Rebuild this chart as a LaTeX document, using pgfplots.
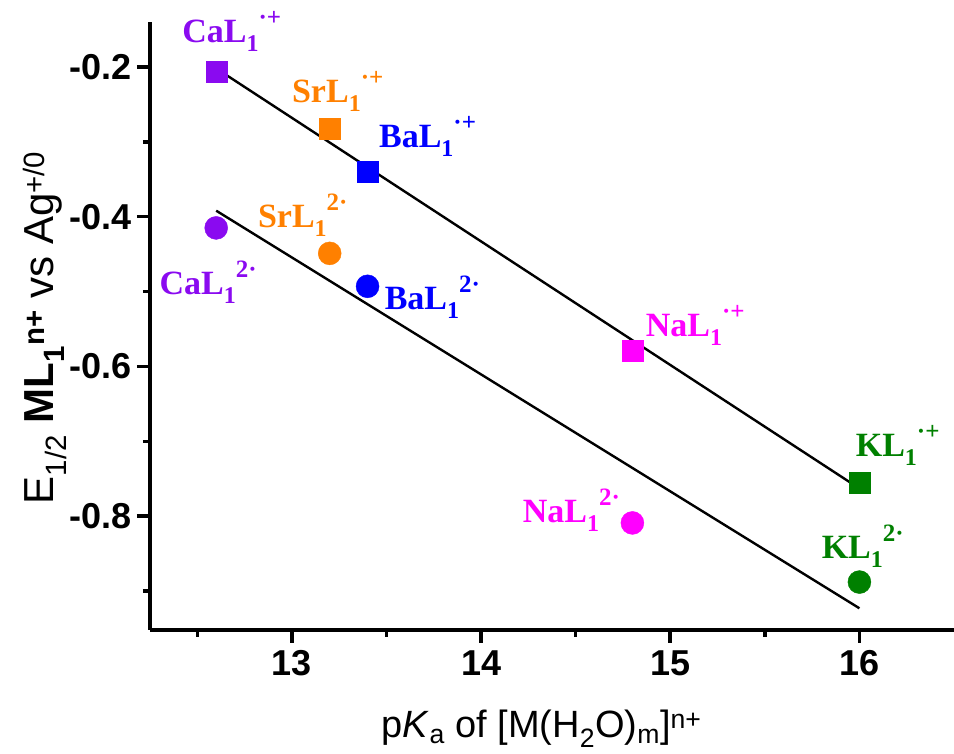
\documentclass[border=0pt]{standalone}
\usepackage{pgfplots}
\pgfplotsset{compat=1.18}
\usepackage{fontspec}
\setmainfont{Liberation Sans}
\newfontfamily\lbl{Liberation Serif}

\definecolor{caC}{RGB}{138,10,240}
\definecolor{srC}{RGB}{255,128,0}
\definecolor{baC}{RGB}{0,0,255}
\definecolor{naC}{RGB}{255,0,255}
\definecolor{kC}{RGB}{0,128,0}

% species label: metal, then L with subscript 1 and a raised charge
\newcommand\mlab[2]{{\lbl\bfseries\fontsize{34}{34}\selectfont #1L\raisebox{-9pt}{\fontsize{24}{24}\selectfont 1}\raisebox{17pt}{\fontsize{25}{25}\selectfont #2}}}
\newcommand\rad{\textperiodcentered+}
\newcommand\dia{2\textperiodcentered}

\begin{document}
\begin{tikzpicture}
\begin{axis}[
  scale only axis, width=804pt, height=608pt,
  xmin=12.25, xmax=16.5, ymin=-0.952, ymax=-0.14,
  axis x line*=bottom, axis y line*=left,
  axis line style={line width=4.5pt, -},
  xtick={13,14,15,16}, minor xtick={12.5,13.5,14.5,15.5},
  ytick={-0.8,-0.6,-0.4,-0.2}, minor ytick={-0.9,-0.7,-0.5,-0.3},
  tick align=outside, major tick length=13pt, minor tick length=7pt,
  every tick/.style={black, line width=3.5pt},
  /pgf/number format/assume math mode=true,
  tick label style={font=\fontsize{36}{36}\selectfont\bfseries},
  xticklabel style={yshift=-4pt},
  yticklabel style={xshift=-2pt, /pgf/number format/.cd, fixed, fixed zerofill, precision=1},
  xlabel={p\textit{K}\textsubscript{a} of [M(H\textsubscript{2}O)\textsubscript{m}]\textsuperscript{n+}},
  ylabel={E\textsubscript{1/2} \textbf{ML}\textsubscript{\textbf{1}}\textsuperscript{\textbf{n+}} vs Ag\textsuperscript{+/0}},
  xlabel style={font=\fontsize{38}{38}\selectfont, at={(axis description cs:0.487,-0.163)}, anchor=center},
  ylabel style={font=\fontsize{42}{42}\selectfont, at={(axis description cs:-0.131,0.497)}, anchor=center},
  clip=false,
]
% radical cations (squares)
\addplot[only marks, mark=square*, mark size=10.5pt, color=caC] coordinates {(12.6,-0.207)};
\addplot[only marks, mark=square*, mark size=10.5pt, color=srC] coordinates {(13.2,-0.283)};
\addplot[only marks, mark=square*, mark size=10.5pt, color=baC] coordinates {(13.4,-0.340)};
\addplot[only marks, mark=square*, mark size=10.5pt, color=naC] coordinates {(14.8,-0.579)};
\addplot[only marks, mark=square*, mark size=10.5pt, color=kC] coordinates {(16.0,-0.755)};
% dianions (circles)
\addplot[only marks, mark=*, mark size=11.5pt, color=caC] coordinates {(12.6,-0.415)};
\addplot[only marks, mark=*, mark size=11.5pt, color=srC] coordinates {(13.2,-0.449)};
\addplot[only marks, mark=*, mark size=11.5pt, color=baC] coordinates {(13.4,-0.493)};
\addplot[only marks, mark=*, mark size=11.5pt, color=naC] coordinates {(14.8,-0.809)};
\addplot[only marks, mark=*, mark size=11.5pt, color=kC] coordinates {(16.0,-0.888)};
% linear fits
\addplot[black, line width=2.4pt] coordinates {(12.6,-0.202) (16.0,-0.763)};
\addplot[black, line width=2.4pt] coordinates {(12.6,-0.392) (16.0,-0.923)};

\node[anchor=base west, inner sep=0, text=caC] at (axis cs:12.42,-0.168) {\mlab{Ca}{\rad}};
\node[anchor=base west, inner sep=0, text=srC] at (axis cs:13.0,-0.247) {\mlab{Sr}{\rad}};
\node[anchor=base west, inner sep=0, text=baC] at (axis cs:13.46,-0.308) {\mlab{Ba}{\rad}};
\node[anchor=base west, inner sep=0, text=naC] at (axis cs:14.87,-0.560) {\mlab{Na}{\rad}};
\node[anchor=base west, inner sep=0, text=kC] at (axis cs:15.98,-0.720) {\mlab{K}{\rad}};
\node[anchor=base west, inner sep=0, text=srC] at (axis cs:12.82,-0.415) {\mlab{Sr}{\dia}};
\node[anchor=base west, inner sep=0, text=caC] at (axis cs:12.30,-0.504) {\mlab{Ca}{\dia}};
\node[anchor=base west, inner sep=0, text=baC] at (axis cs:13.49,-0.524) {\mlab{Ba}{\dia}};
\node[anchor=base west, inner sep=0, text=naC] at (axis cs:14.22,-0.808) {\mlab{Na}{\dia}};
\node[anchor=base west, inner sep=0, text=kC] at (axis cs:15.80,-0.857) {\mlab{K}{\dia}};
\end{axis}
\pgfresetboundingbox
\path[use as bounding box] (-150pt,-124pt) rectangle (804pt,630pt);
\end{tikzpicture}
\end{document}
